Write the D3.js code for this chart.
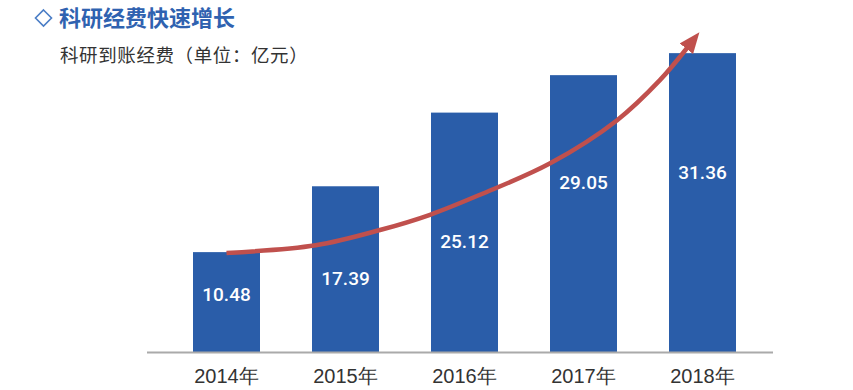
<!DOCTYPE html>
<html>
<head>
<meta charset="utf-8">
<script src="https://cdn.jsdelivr.net/npm/d3@7/dist/d3.min.js"></script>
<style>
  body { margin: 0; background: #fff; }
  svg { display: block; }
</style>
</head>
<body>
<script>
// data
var years = ["2014年", "2015年", "2016年", "2017年", "2018年"];
var funds = [10.48, 17.39, 25.12, 29.05, 31.36];
// where the value label sits inside each bar (in data units)
var labelLevel = [6.1, 7.75, 11.65, 17.75, 18.9];
// trend arrow, x in year index, y in data units
var trendIdx = [0, 0.75, 1.29, 1.71, 2.13, 2.72, 3.28, 3.64, 3.87];
var trendVal = [10.4, 11.2, 12.8, 14.4, 16.5, 19.8, 24.3, 28.5, 31.9];

var W = 853, H = 390;
var blue = "#2a5da9", red = "#c0504d";

var svg = d3.select("body").append("svg")
  .attr("width", W)
  .attr("height", H);

// scales
var x = d3.scaleBand().domain(years)
  .range([167, 762])
  .paddingInner(0.437)
  .paddingOuter(0.2185);
var y = d3.scaleLinear().domain([0, 35]).range([352, 18.45]);
var xi = d3.scaleLinear().domain([0, 1])
  .range([x(years[0]) + x.bandwidth() / 2, x(years[1]) + x.bandwidth() / 2]);

// title
svg.append("path")
  .attr("d", "M43.5,10 L51.5,18 L43.5,26 L35.5,18 Z")
  .attr("fill", "none")
  .attr("stroke", "#4a7dc6")
  .attr("stroke-width", 1.6);
svg.append("text")
  .attr("x", 59).attr("y", 26)
  .attr("font-family", "Noto Sans CJK SC")
  .attr("font-weight", "bold")
  .attr("font-size", 22)
  .attr("fill", "#2f62b0")
  .text("科研经费快速增长");
svg.append("text")
  .attr("x", 60).attr("y", 62)
  .attr("font-family", "Noto Sans CJK SC")
  .attr("font-size", 18.5)
  .attr("letter-spacing", 0.6)
  .attr("fill", "#333")
  .text("科研到账经费（单位：亿元）");

// bars
svg.selectAll(".bar")
  .data(funds)
  .enter().append("rect")
  .attr("class", "bar")
  .attr("x", function (d, i) { return x(years[i]); })
  .attr("y", function (d) { return y(d); })
  .attr("width", x.bandwidth())
  .attr("height", function (d) { return y(0) - y(d); })
  .attr("fill", blue);

// baseline
svg.append("line")
  .attr("x1", 147).attr("x2", 773)
  .attr("y1", y(0) + 0.5).attr("y2", y(0) + 0.5)
  .attr("stroke", "#aaa")
  .attr("stroke-width", 2);

// year labels
svg.selectAll(".year")
  .data(years)
  .enter().append("text")
  .attr("class", "year")
  .attr("x", function (d) { return x(d) + x.bandwidth() / 2; })
  .attr("y", 383)
  .attr("text-anchor", "middle")
  .attr("font-family", "Liberation Sans, Arial, sans-serif")
  .attr("font-size", 20)
  .attr("fill", "#333")
  .text(function (d) { return d; });

// trend arrow
var defs = svg.append("defs");
defs.append("marker")
  .attr("id", "head")
  .attr("markerUnits", "userSpaceOnUse")
  .attr("viewBox", "0 -9 22 18")
  .attr("refX", 1).attr("refY", 0)
  .attr("markerWidth", 22).attr("markerHeight", 18)
  .attr("orient", "auto")
  .append("path")
  .attr("d", "M0,-8.5 L21,0 L0,8.5 Z")
  .attr("fill", red);

var line = d3.line()
  .x(function (d) { return xi(d[0]); })
  .y(function (d) { return y(d[1]); })
  .curve(d3.curveCatmullRom);

svg.append("path")
  .datum(d3.zip(trendIdx, trendVal))
  .attr("d", line)
  .attr("fill", "none")
  .attr("stroke", red)
  .attr("stroke-width", 4.5)
  .attr("marker-end", "url(#head)");

// value labels
svg.selectAll(".val")
  .data(funds)
  .enter().append("text")
  .attr("class", "val")
  .attr("x", function (d, i) { return x(years[i]) + x.bandwidth() / 2; })
  .attr("y", function (d, i) { return y(labelLevel[i]); })
  .attr("dy", "0.35em")
  .attr("text-anchor", "middle")
  .attr("font-family", "Roboto, Liberation Sans, Arial, sans-serif")
  .attr("font-weight", 500)
  .attr("font-size", 19)
  .attr("fill", "#fff")
  .text(function (d) { return d.toFixed(2); });
</script>
</body>
</html>
